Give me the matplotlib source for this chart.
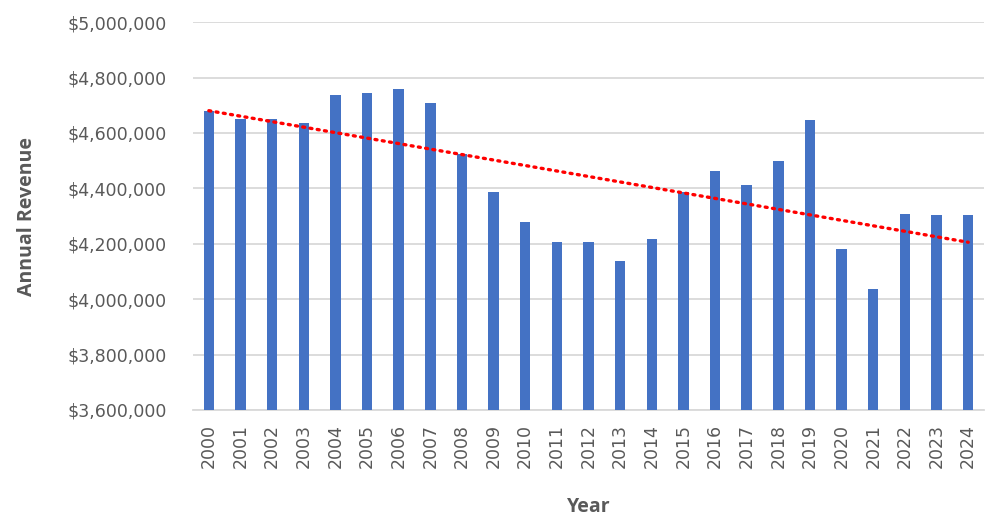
import matplotlib
matplotlib.use('Agg')
import matplotlib.pyplot as plt
import numpy as np
from matplotlib.ticker import FuncFormatter

# ── Dados ──────────────────────────────────────────────────────────────────────
years = list(range(2000, 2025))
revenue = [4678000, 4652000, 4652000, 4635000, 4738000, 4743000, 4759000,
           4708000, 4525000, 4388000, 4280000, 4208000, 4208000, 4138000,
           4217000, 4388000, 4464000, 4412000, 4499000, 4647000, 4182000,
           4036000, 4308000, 4305000, 4305000]
y_ticks = [3600000, 3800000, 4000000, 4200000, 4400000, 4600000, 4800000, 5000000]

plt.rcParams['font.family'] = ['DejaVu Sans']
GRAY = '#595959'

fig = plt.figure(figsize=(10, 5.28), dpi=100)
ax = fig.add_axes([0.193, 0.2235, 0.791, 0.7345])

x = np.arange(len(years))
ax.bar(x, revenue, width=0.33, color='#4472C4', zorder=3)

# linha de tendência linear (como no Excel)
coef = np.polyfit(x, revenue, 1)
xt = np.array([x[0], x[-1]])
ax.plot(xt, np.polyval(coef, xt), color='#FF0000', lw=2.4,
        linestyle=(0, (0.6, 1.6)), dash_capstyle='round', zorder=4)

ax.set_xlim(-0.5, len(years) - 0.5)
ax.set_ylim(y_ticks[0], y_ticks[-1])
ax.set_yticks(y_ticks)
ax.yaxis.set_major_formatter(FuncFormatter(lambda v, p: f'${v:,.0f}'))
ax.set_xticks(x)
ax.set_xticklabels([str(y) for y in years], rotation=90)

ax.grid(axis='y', color='#D9D9D9', lw=1.3, zorder=0)
for s in ('top', 'right', 'left'):
    ax.spines[s].set_visible(False)
ax.spines['bottom'].set_color('#D9D9D9')
ax.spines['bottom'].set_linewidth(1.3)
ax.spines['bottom'].set_zorder(1)

ax.tick_params(axis='both', length=0, labelcolor=GRAY)
ax.tick_params(axis='y', pad=19, labelsize=12.5)
ax.tick_params(axis='x', pad=10, labelsize=12.5)

title_font = dict(family=['Open Sans', 'DejaVu Sans'], color=GRAY,
                  fontsize=14, fontweight='bold')
ax.set_ylabel('Annual Revenue', labelpad=22, **title_font)
ax.set_xlabel('Year', labelpad=21, **title_font)

fig.savefig('out.png', dpi=100)
